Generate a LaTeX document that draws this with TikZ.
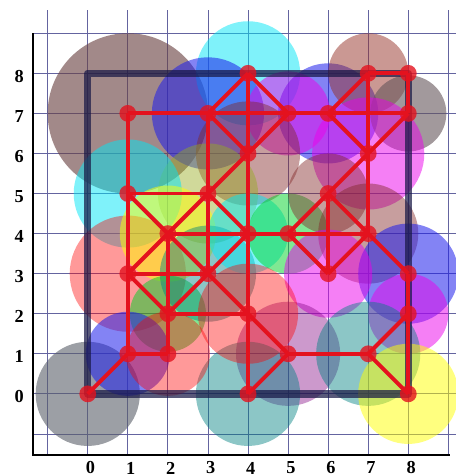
\documentclass[tikz,border=0pt]{standalone}
\usepackage{fontspec}
\setmainfont{Liberation Serif}
\pgfdeclarelayer{bg}
\pgfdeclarelayer{disks}
\pgfdeclarelayer{frame}
\pgfdeclarelayer{links}
\pgfsetlayers{bg,disks,frame,links,main}
\definecolor{linkred}{RGB}{228,18,30}
\definecolor{gridc}{RGB}{100,100,160}
\definecolor{framec}{RGB}{25,25,70}
\definecolor{cbrown}{RGB}{105,65,65}
\definecolor{cgrey}{RGB}{90,95,105}
\definecolor{cgreyb}{RGB}{100,85,90}
\definecolor{ccyan}{RGB}{0,230,245}
\definecolor{cblue}{RGB}{30,30,235}
\definecolor{cmag}{RGB}{235,0,235}
\definecolor{crosy}{RGB}{150,50,40}
\definecolor{cbred}{RGB}{130,40,40}
\definecolor{colive}{RGB}{150,170,30}
\definecolor{cyellow}{RGB}{255,255,0}
\definecolor{cgreen}{RGB}{0,210,40}
\definecolor{cteal}{RGB}{0,128,128}
\definecolor{cpink}{RGB}{255,0,0}
\definecolor{cpurple}{RGB}{128,0,128}
\begin{document}
\begin{tikzpicture}[x=1cm,y=1cm,
  vtx/.style={circle,fill=linkred,fill opacity=0.8,inner sep=0pt,minimum size=0.42cm},
  link/.style={draw=linkred,line width=2.8pt},
  gridline/.style={draw=gridc,line width=0.6pt},
  axisline/.style={draw=black,line width=1.3pt},
  framestyle/.style={draw=framec,draw opacity=0.72,line width=5.2pt,line join=round},
  lab/.style={font=\bfseries\fontsize{13}{13}\selectfont,inner sep=0pt},
  dbrown/.style={fill=cbrown,fill opacity=.62},
  dgrey/.style={fill=cgrey,fill opacity=.6},
  dgreyb/.style={fill=cgreyb,fill opacity=.6},
  dcyan/.style={fill=ccyan,fill opacity=.5},
  dblue/.style={fill=cblue,fill opacity=.55},
  dmag/.style={fill=cmag,fill opacity=.5},
  drosy/.style={fill=crosy,fill opacity=.5},
  dbred/.style={fill=cbred,fill opacity=.45},
  dolive/.style={fill=colive,fill opacity=.45},
  dyellow/.style={fill=cyellow,fill opacity=.5},
  dgreen/.style={fill=cgreen,fill opacity=.5},
  dteal/.style={fill=cteal,fill opacity=.45},
  dpink/.style={fill=cpink,fill opacity=.4},
  dpurple/.style={fill=cpurple,fill opacity=.4}]
\useasboundingbox (-2.19,-2.05) rectangle (9.19,9.83);

% grid and axes
\begin{pgfonlayer}{bg}
\foreach \i in {-1,...,9} {
  \draw[gridline] (\i,-1.52) -- (\i,9.58);
  \draw[gridline] (-1.37,\i) -- (9.19,\i);
}
\draw[axisline] (-1.37,9.0) -- (-1.37,-1.52) -- (9.05,-1.52);
\end{pgfonlayer}

% axis labels
\foreach \i in {0,...,8} {
  \node[lab] (ly\i) at (-1.71,\i-0.07) {\i};
  \node[lab] (lx\i) at (\i+0.07,-1.85) {\i};
}

% disks
\begin{pgfonlayer}{disks}
\fill[dbrown] (1,7) circle (2.0);
\fill[dgrey] (0,0) circle (1.3);
\fill[dcyan] (4,8) circle (1.3);
\fill[dblue] (3,7) circle (1.4);
\fill[dblue] (6,7) circle (1.25);
\fill[dmag] (5,7) circle (1.05);
\fill[drosy] (7,8) circle (1.0);
\fill[dgreyb] (8,7) circle (0.95);
\fill[dmag] (7,6) circle (1.4);
\fill[dbred] (4,6) circle (1.3);
\fill[dolive] (3,5) circle (1.25);
\fill[dcyan] (1,5) circle (1.35);
\fill[dpink] (1,3) circle (1.45);
\fill[dyellow] (2,4) circle (1.2);
\fill[dgreen] (2,2) circle (0.95);
\fill[dteal] (3,3) circle (1.2);
\fill[dcyan] (4,4) circle (1.0);
\fill[dgreen] (5,4) circle (1.0);
\fill[dbred] (6,5) circle (1.0);
\fill[dbred] (7,4) circle (1.25);
\fill[dblue] (8,3) circle (1.25);
\fill[dmag] (8,2) circle (1.0);
\fill[dmag] (6,3) circle (1.1);
\fill[dpurple] (5,1) circle (1.3);
\fill[dteal] (4,0) circle (1.3);
\fill[dpink] (4,2) circle (1.25);
\fill[dteal] (7,1) circle (1.3);
\fill[dyellow] (8,0) circle (1.25);
\fill[dblue] (1,1) circle (1.05);
\fill[dpink] (2,1) circle (1.05);
\end{pgfonlayer}

% frame
\begin{pgfonlayer}{frame}
\draw[framestyle] (0,0) rectangle (8,8);
\end{pgfonlayer}

% vertices
\foreach \x/\y in {0/0,1/1,2/1,1/3,2/2,3/3,2/4,1/5,3/5,4/4,4/6,3/7,1/7,4/8,5/7,6/7,7/8,8/8,8/7,7/6,6/5,5/4,7/4,6/3,8/3,8/2,7/1,5/1,4/2,4/0,8/0}
  \node[vtx] (v\x\y) at (\x,\y) {};

% links
\begin{pgfonlayer}{links}
\foreach \a/\b in {
  v11/v21, v51/v71, v22/v42, v13/v33, v24/v44, v44/v54, v54/v74, v15/v35,
  v17/v37, v37/v57, v57/v67, v67/v87, v78/v88,
  v11/v13, v13/v15, v15/v17, v21/v22, v22/v24, v33/v35, v35/v37,
  v40/v42, v42/v44, v44/v46, v46/v48, v63/v65, v74/v76, v76/v78,
  v80/v82, v82/v83, v87/v88,
  v00/v11, v13/v22, v22/v33, v13/v24, v24/v33, v33/v42, v15/v24, v24/v35,
  v35/v44, v33/v44, v35/v46, v37/v46, v37/v48, v48/v57, v46/v57,
  v67/v78, v67/v76, v76/v87, v65/v76, v54/v65, v65/v74, v54/v63, v63/v74,
  v74/v83, v42/v51, v40/v51, v71/v82, v71/v80}
  \draw[link] (\a.center) -- (\b.center);
\end{pgfonlayer}
\end{tikzpicture}
\end{document}
